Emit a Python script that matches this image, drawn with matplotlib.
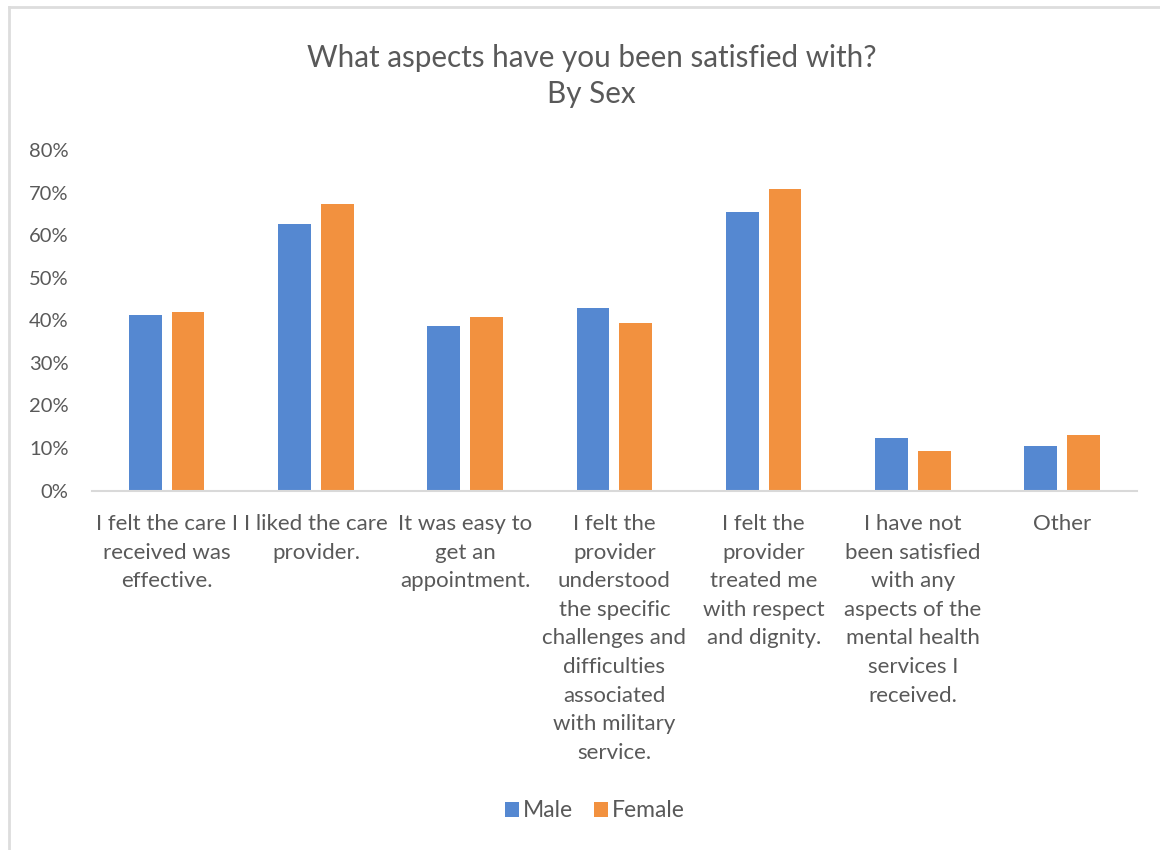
import matplotlib.pyplot as plt
import numpy as np
from matplotlib.lines import Line2D

plt.rcParams['font.family'] = ['Lato', 'DejaVu Sans']

# data
categories = [
    "I felt the care I\nreceived was\neffective.",
    "I liked the care\nprovider.",
    "It was easy to\nget an\nappointment.",
    "I felt the\nprovider\nunderstood\nthe specific\nchallenges and\ndifficulties\nassociated\nwith military\nservice.",
    "I felt the\nprovider\ntreated me\nwith respect\nand dignity.",
    "I have not\nbeen satisfied\nwith any\naspects of the\nmental health\nservices I\nreceived.",
    "Other",
]
male = [0.412, 0.628, 0.386, 0.430, 0.654, 0.123, 0.104]
female = [0.419, 0.673, 0.407, 0.394, 0.708, 0.093, 0.131]
yticks = [0, 0.1, 0.2, 0.3, 0.4, 0.5, 0.6, 0.7, 0.8]

blue = '#5588D1'
orange = '#F2913F'
grey = '#595959'

fig = plt.figure(figsize=(11.6, 8.5), dpi=100)
ax = fig.add_axes([0.0793, 0.4229, 0.9007, 0.4002])

x = np.arange(len(categories))
w = 0.22
ax.bar(x - 0.143, male, w, color=blue, label='Male')
ax.bar(x + 0.143, female, w, color=orange, label='Female')

ax.set_xlim(-0.5, len(categories) - 0.5)
ax.set_ylim(0, 0.8)
ax.set_yticks(yticks)
ax.set_yticklabels([f"{int(round(v * 100))}%" for v in yticks])
ax.set_xticks(x)
ax.set_xticklabels(categories, linespacing=1.535)
ax.tick_params(axis='both', length=0, colors=grey)
ax.tick_params(axis='x', labelsize=16, pad=17)
ax.tick_params(axis='y', labelsize=14.5, pad=17)
for s in ['top', 'right', 'left']:
    ax.spines[s].set_visible(False)
ax.spines['bottom'].set_color('#D9D9D9')
ax.spines['bottom'].set_linewidth(1.5)

fig.text(0.510, 0.932, "What aspects have you been satisfied with?", ha='center',
         va='center', fontsize=21.3, color=grey)
fig.text(0.510, 0.890, "By Sex", ha='center', va='center', fontsize=21.3, color=grey)

ax.legend(loc='center', bbox_to_anchor=(0.513, 0.046), bbox_transform=fig.transFigure,
          ncol=2, frameon=False, fontsize=16.5, labelcolor=grey, handlelength=0.6,
          handleheight=0.6, handletextpad=0.2, columnspacing=0.9)

# light frame at left and top like the source screenshot
fig.add_artist(Line2D([9 / 1160, 9 / 1160], [0, 1 - 7 / 850], color='#DDDDDD', lw=2,
                      transform=fig.transFigure))
fig.add_artist(Line2D([9 / 1160, 1], [1 - 7 / 850, 1 - 7 / 850], color='#DDDDDD', lw=2,
                      transform=fig.transFigure))

fig.savefig('out.png', dpi=100)
